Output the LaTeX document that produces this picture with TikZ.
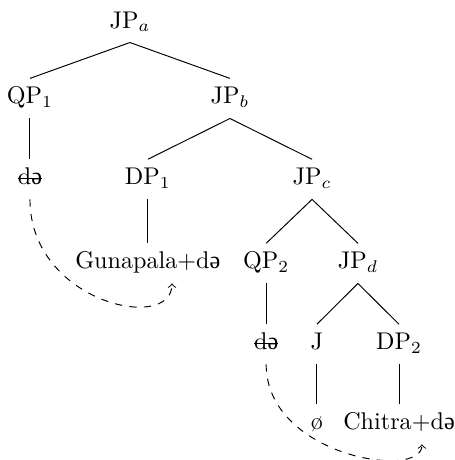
\documentclass[tikz,border=0pt]{standalone}
\usepackage{fontspec}
\usetikzlibrary{positioning}
\newfontfamily\ipafont{Liberation Serif}
\newcommand{\shwa}{{\ipafont ə}}
\newsavebox{\strikebox}
\newcommand{\strikeout}[1]{\sbox{\strikebox}{#1}\rlap{\rule[0.55ex]{\wd\strikebox}{0.4pt}}\usebox{\strikebox}}
\tikzset{
	every node/.style={inner sep=3.4pt, text height=7pt, text depth=2.4pt},
	movement/.style={->, dashed},
}

\begin{document}
\begin{tikzpicture}
	\useasboundingbox (-53.8pt,11.6pt) rectangle (134.55pt,-178.85pt);
	\node[anchor=base] (JPA) at (0,0) {JP$_a$};
	\node[below=14.85pt of JPA, xshift=-41.4pt] (QP1) {QP$_1$};
	\node[below=14.85pt of JPA, xshift=41.4pt] (JPB) {JP$_b$};
	\node[below=16.9pt of QP1] (D1) {\strikeout{d\shwa}};
	\node[below=16.9pt of JPB, xshift=-34pt] (DP1) {DP$_1$};
	\node[below=16.9pt of JPB, xshift=34pt] (JPC) {JP$_c$};
	\node[below=18.2pt of DP1] (GUNA) {Gunapala+d\shwa};
	\node[below=18.2pt of JPC, xshift=-19pt] (QP2) {QP$_2$};
	\node[below=18.2pt of JPC, xshift=19pt] (JPD) {JP$_d$};
	\node[below=16.9pt of QP2] (D2) {\strikeout{d\shwa}};
	\node[below=16.9pt of JPD, xshift=-17pt] (J) {J};
	\node[below=16.9pt of JPD, xshift=17pt] (DP2) {DP$_2$};
	\node[below=16.5pt of J] (NULL) {\o};
	\node[below=16.5pt of DP2] (CHITRA) {Chitra+d\shwa};

	\draw (JPA.south) -- (QP1.north);
	\draw (JPA.south) -- (JPB.north);
	\draw (QP1.south) -- (D1.north);
	\draw (JPB.south) -- (DP1.north);
	\draw (JPB.south) -- (JPC.north);
	\draw (DP1.south) -- (GUNA.north);
	\draw (JPC.south) -- (QP2.north);
	\draw (JPC.south) -- (JPD.north);
	\draw (QP2.south) -- (D2.north);
	\draw (JPD.south) -- (J.north);
	\draw (JPD.south) -- (DP2.north);
	\draw (J.south) -- (NULL.north);
	\draw (DP2.south) -- (CHITRA.north);

	\draw[movement] (D1.south) .. controls +(0,-42.6pt) and +(0,-20.7pt) .. ([xshift=10pt]GUNA.south);
	\draw[movement] (D2.south) .. controls +(0,-38pt) and +(0,-15pt) .. ([xshift=9.5pt]CHITRA.south);
\end{tikzpicture}
\end{document}
